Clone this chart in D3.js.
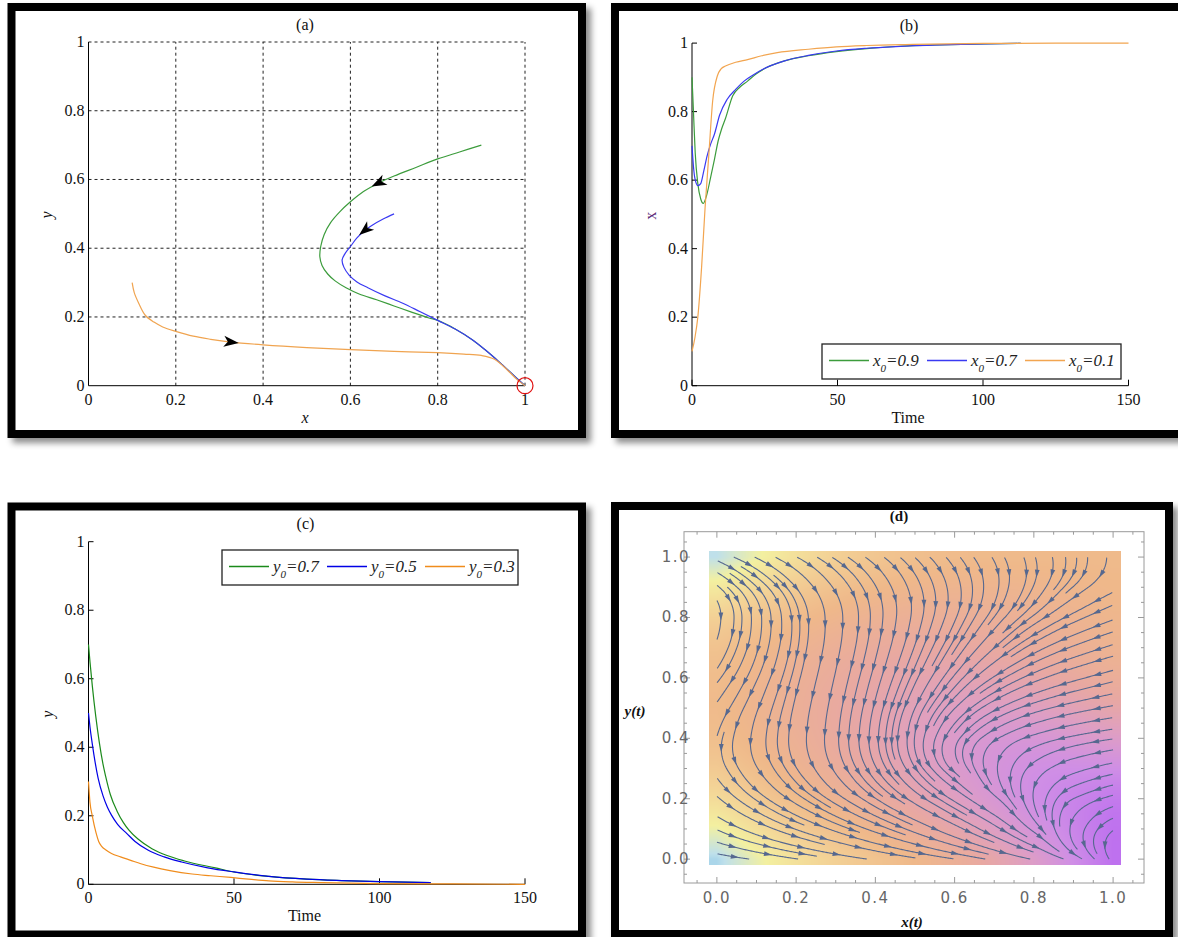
<!DOCTYPE html>
<html>
<head>
<meta charset="utf-8">
<script src="https://cdn.jsdelivr.net/npm/d3@7"></script>
<style>
  body { margin: 0; background: #fff; }
  svg { display: block; }
</style>
</head>
<body>
<div id="chart"></div>
<script>
// ---------- data ----------
var unitTicks = [0, 0.2, 0.4, 0.6, 0.8, 1];
var timeTicks = [0, 50, 100, 150];

// (a) phase trajectories [x, y]
var phaseGreen = [[0.9,0.70],[0.85,0.68],[0.8,0.66],[0.75,0.635],[0.7,0.61],[0.665,0.59],[0.63,0.565],[0.6,0.535],
  [0.575,0.505],[0.555,0.475],[0.54,0.44],[0.532,0.405],[0.53,0.375],[0.535,0.35],[0.548,0.325],[0.565,0.305],
  [0.59,0.285],[0.62,0.267],[0.66,0.25],[0.7,0.232],[0.74,0.214],[0.78,0.197],[0.8,0.19],[0.84,0.165],[0.88,0.133],
  [0.91,0.103],[0.94,0.07],[0.97,0.035],[1,0]];
var phaseBlue = [[0.7,0.50],[0.675,0.485],[0.65,0.467],[0.634,0.453],[0.615,0.43],[0.6,0.405],[0.588,0.385],
  [0.581,0.366],[0.585,0.345],[0.597,0.322],[0.615,0.302],[0.64,0.285],[0.678,0.262],[0.72,0.24],[0.76,0.215],
  [0.8,0.19],[0.84,0.165],[0.88,0.133],[0.91,0.103],[0.94,0.07],[0.97,0.035],[1,0]];
var phaseOrange = [[0.1,0.30],[0.105,0.27],[0.115,0.24],[0.13,0.205],[0.15,0.185],[0.17,0.171],[0.2,0.158],
  [0.24,0.144],[0.28,0.135],[0.326,0.127],[0.4,0.119],[0.5,0.111],[0.6,0.105],[0.7,0.1],[0.8,0.096],[0.86,0.092],
  [0.9,0.088],[0.93,0.077],[0.96,0.045],[0.98,0.02],[1,0]];
var phaseArrows = [["green", 0.665, 0.59], ["blue", 0.634, 0.453], ["orange", 0.326, 0.127]];
var equilibrium = [1, 0];

// (b) x(t)
var bTimeG = [0,0.5,1.1,2,3,3.9,5,6.4,7.7,9,10.2,11.5,14,16.5,19.1,22,25.5,31.8,40,49.6,60,70,85,100,113];
var bValG  = [0.9,0.8,0.68,0.59,0.545,0.532,0.555,0.608,0.66,0.715,0.75,0.78,0.846,0.872,0.889,0.91,0.928,0.948,0.963,0.975,0.984,0.99,0.995,0.998,0.999];
var bTimeB = [0,0.5,1,2,3,4,5.2,6.4,7.7,9.5,12.1,15,17.9,21,24.2,31.8,40,49.6,60,70,85,100,113];
var bValB  = [0.7,0.64,0.605,0.584,0.59,0.625,0.671,0.705,0.734,0.79,0.836,0.865,0.889,0.907,0.923,0.948,0.964,0.977,0.985,0.99,0.995,0.998,0.999];
var bTimeO = [0,1,2,3.3,4.5,5.8,7.1,8.7,10,11.5,15,19.1,24,29.3,40,49.6,60,76,100,125,150];
var bValO  = [0.1,0.14,0.2,0.346,0.52,0.676,0.831,0.904,0.925,0.933,0.944,0.952,0.963,0.972,0.982,0.989,0.993,0.996,0.999,1,1];
var bLabels = ["0.9", "0.7", "0.1"];

// (c) y(t)
var cTimeG = [0,0.5,1.3,2.5,3.7,5,5.9,7.5,9.9,12,13.9,17,21.8,27,33,43.6,50,62,75,87,100,117.6];
var cValG  = [0.7,0.65,0.58,0.49,0.415,0.35,0.315,0.262,0.212,0.18,0.158,0.132,0.104,0.084,0.068,0.048,0.036,0.023,0.015,0.011,0.008,0.005];
var cTimeB = [0,0.5,1.3,2.3,3.3,5,6.5,7.9,10,13.2,16,20.4,26,32,41,50,62,75,87,100,117.6];
var cValB  = [0.5,0.46,0.41,0.355,0.31,0.258,0.225,0.202,0.175,0.148,0.125,0.1,0.08,0.065,0.048,0.036,0.023,0.015,0.011,0.008,0.005];
var cTimeO = [0,0.5,1.3,2.6,3.5,4.6,6,7.9,11,14.5,18,22.4,28,35.6,42,48.9,55,62,70,80,100,125,150];
var cValO  = [0.3,0.24,0.2,0.15,0.125,0.11,0.1,0.09,0.08,0.07,0.06,0.05,0.04,0.03,0.025,0.02,0.015,0.01,0.007,0.005,0.002,0.001,0];
var cLabels = ["0.7", "0.5", "0.3"];

// (d) stream directions (degrees, 0 = right, -90 = down); rows y = 0..1, cols x = 0..1 step 0.1
var fieldGrid = [0,0.1,0.2,0.3,0.4,0.5,0.6,0.7,0.8,0.9,1];
var fieldAngle = [
  [-8,-8,-8,-8,-8,-8,-8,-10,-12,-20,-60],
  [-25,-22,-20,-20,-20,-22,-25,-30,-38,-100,-150],
  [-40,-35,-33,-33,-33,-33,-32,-35,-85,-155,-165],
  [-62,-58,-58,-60,-60,-55,-42,-85,-140,-162,-168],
  [-105,-95,-92,-92,-92,-95,-125,-150,-163,-169,-172],
  [-125,-112,-102,-100,-104,-115,-135,-153,-163,-168,-170],
  [-128,-115,-105,-103,-106,-115,-130,-148,-158,-164,-166],
  [-115,-105,-100,-100,-103,-110,-122,-138,-152,-160,-163],
  [-92,-88,-85,-88,-92,-100,-112,-128,-145,-155,-160],
  [-40,-45,-50,-55,-62,-70,-80,-95,-115,-140,-152],
  [-22,-25,-28,-32,-36,-42,-48,-58,-72,-85,-92]
];
// (d) background density (relative speed); rows y = 0..1, cols x = 0..1 step 0.2
var densVals = [
  [0.06,0.26,0.36,0.46,0.62,0.86],
  [0.28,0.42,0.50,0.62,0.78,0.86],
  [0.40,0.47,0.56,0.68,0.72,0.62],
  [0.40,0.47,0.54,0.58,0.52,0.46],
  [0.34,0.42,0.46,0.48,0.46,0.42],
  [0.08,0.26,0.36,0.40,0.40,0.40]
];
var densStops  = [0, 0.08, 0.18, 0.3, 0.41, 0.52, 0.62, 0.74, 0.88, 1];
var densColors = ["#6fb8e8","#bfe0ea","#f3f0a0","#f3d296","#efb88a","#e8a8a2","#de9ec4","#cf8ee6","#bb6cf0","#b060f0"];

// ---------- drawing ----------
var W = 1178, H = 937;
var serif = "'Liberation Serif', 'Times New Roman', serif";
var svg = d3.select("#chart").append("svg").attr("width", W).attr("height", H);
svg.append("rect").attr("width", W).attr("height", H).attr("fill", "#fff");
var defs = svg.append("defs");
var flt = defs.append("filter").attr("id", "shadow")
  .attr("x", "-5%").attr("y", "-5%").attr("width", "115%").attr("height", "115%");
flt.append("feDropShadow").attr("dx", 5).attr("dy", 5).attr("stdDeviation", 3)
  .attr("flood-color", "#000").attr("flood-opacity", 0.45);

function frame(x, y, w, h) {
  svg.append("rect").attr("x", x).attr("y", y).attr("width", w).attr("height", h)
    .attr("fill", "#000").attr("filter", "url(#shadow)");
  svg.append("rect").attr("x", x + 8).attr("y", y + 8).attr("width", w - 16).attr("height", h - 16)
    .attr("fill", "#fff");
}
frame(7.5, 3, 578.5, 435);
frame(611, 3, 590, 435);
frame(7.5, 502.5, 578.5, 436);
frame(611, 502, 562, 436);

function fmt(v) { return String(+v.toFixed(1)); }

function txt(g, x, y, s, opt) {
  opt = opt || {};
  return g.append("text").attr("x", x).attr("y", y).text(s)
    .attr("font-family", opt.family || serif).attr("font-size", opt.size || 16)
    .attr("text-anchor", opt.anchor || "middle")
    .attr("font-style", opt.style || "normal")
    .attr("font-weight", opt.weight || "normal")
    .attr("fill", opt.fill || "#111");
}

function axesLeftBottom(g, sx, sy, xt, yt, tickIn) {
  var x0 = sx.range()[0], x1 = sx.range()[1], y0 = sy.range()[0], y1 = sy.range()[1];
  g.append("line").attr("x1", x0).attr("x2", x0).attr("y1", y0).attr("y2", y1).attr("stroke", "#000");
  g.append("line").attr("x1", x0).attr("x2", x1).attr("y1", y0).attr("y2", y0).attr("stroke", "#000");
  xt.forEach(function (v) {
    if (tickIn) g.append("line").attr("x1", sx(v)).attr("x2", sx(v)).attr("y1", y0).attr("y2", y0 - 6).attr("stroke", "#000");
    txt(g, sx(v), y0 + 19, fmt(v));
  });
  yt.forEach(function (v) {
    if (tickIn) g.append("line").attr("x1", x0).attr("x2", x0 + 5).attr("y1", sy(v)).attr("y2", sy(v)).attr("stroke", "#000");
    txt(g, x0 - 4, sy(v) + 5, fmt(v), {anchor: "end"});
  });
}

function legend(g, bx, by, bw, bh, letter, labels, colors) {
  g.append("rect").attr("x", bx).attr("y", by).attr("width", bw).attr("height", bh)
    .attr("fill", "#fff").attr("stroke", "#222").attr("stroke-width", 1.3);
  labels.forEach(function (lab, i) {
    var lx = bx + 7 + i * 98, ly = by + bh / 2 - 1;
    g.append("line").attr("x1", lx).attr("x2", lx + 40).attr("y1", ly).attr("y2", ly)
      .attr("stroke", colors[i]).attr("stroke-width", 1.3);
    var t = g.append("text").attr("x", lx + 44).attr("y", ly + 5)
      .attr("font-family", serif).attr("font-size", 17).attr("font-style", "italic").attr("fill", "#222");
    t.append("tspan").text(letter);
    t.append("tspan").attr("dy", 6).attr("font-size", 11).text("0");
    t.append("tspan").attr("dy", -6).text("=" + lab);
  });
}

// ----- (a) -----
(function () {
  var g = svg.append("g");
  var sx = d3.scaleLinear().domain([0, 1]).range([88.5, 525]);
  var sy = d3.scaleLinear().domain([0, 1]).range([385.7, 42]);
  unitTicks.slice(1).forEach(function (v) {
    g.append("line").attr("x1", sx(v)).attr("x2", sx(v)).attr("y1", sy(0)).attr("y2", sy(1))
      .attr("stroke", "#222").attr("stroke-dasharray", "3,3");
    g.append("line").attr("x1", sx(0)).attr("x2", sx(1)).attr("y1", sy(v)).attr("y2", sy(v))
      .attr("stroke", "#222").attr("stroke-dasharray", "3,3");
  });
  axesLeftBottom(g, sx, sy, unitTicks, unitTicks, false);
  var line = d3.line().x(function (d) { return sx(d[0]); }).y(function (d) { return sy(d[1]); })
    .curve(d3.curveCatmullRom.alpha(0.5));
  var series = {green: [phaseGreen, "#3c9c3c"], blue: [phaseBlue, "#3a3af2"], orange: [phaseOrange, "#f0a450"]};
  ["green", "blue", "orange"].forEach(function (k) {
    g.append("path").attr("d", line(series[k][0])).attr("fill", "none")
      .attr("stroke", series[k][1]).attr("stroke-width", 1.2);
  });
  phaseArrows.forEach(function (a) {
    var pts = series[a[0]][0], best = 0, bd = 1e9;
    for (var i = 0; i < pts.length - 1; i++) {
      var d = Math.hypot(pts[i][0] - a[1], pts[i][1] - a[2]);
      if (d < bd) { bd = d; best = i; }
    }
    var p = pts[Math.max(0, best - 1)], q = pts[Math.min(pts.length - 1, best + 1)];
    var ang = Math.atan2(sy(q[1]) - sy(p[1]), sx(q[0]) - sx(p[0])) * 180 / Math.PI;
    g.append("path").attr("d", "M8,0L-7,-5.5L-3,0L-7,5.5Z").attr("fill", "#000")
      .attr("transform", "translate(" + sx(a[1]) + "," + sy(a[2]) + ") rotate(" + ang + ")");
  });
  g.append("circle").attr("cx", sx(equilibrium[0])).attr("cy", sy(equilibrium[1])).attr("r", 8)
    .attr("fill", "none").attr("stroke", "#e01010").attr("stroke-width", 1.2);
  txt(g, 305, 30, "(a)");
  txt(g, 305, 423, "x", {style: "italic"});
  txt(g, 0, 0, "y", {style: "italic"}).attr("transform", "translate(52,215) rotate(-90)");
})();

// ----- time plots -----
function timePanel(ox, oy, times, vals, colors, letter, labels, title, ylab, ylabColor, leg) {
  var g = svg.append("g");
  var sx = d3.scaleLinear().domain([0, 150]).range([ox, ox + 436.5]);
  var sy = d3.scaleLinear().domain([0, 1]).range([oy, oy - 342.6]);
  axesLeftBottom(g, sx, sy, timeTicks, unitTicks, true);
  times.forEach(function (t, i) {
    var pts = t.map(function (tt, j) { return [tt, vals[i][j]]; });
    var line = d3.line().x(function (d) { return sx(d[0]); }).y(function (d) { return sy(d[1]); })
      .curve(d3.curveMonotoneX);
    g.append("path").attr("d", line(pts)).attr("fill", "none").attr("stroke", colors[i]).attr("stroke-width", 1.2);
  });
  legend(g, leg[0], leg[1], leg[2], leg[3], letter, labels, colors);
  txt(g, ox + 217, oy - 355, title);
  txt(g, ox + 216, oy + 37, "Time");
  txt(g, 0, 0, ylab, {style: ylabColor ? "normal" : "italic", fill: ylabColor || "#111"})
    .attr("transform", "translate(" + (ox - 36) + "," + (oy - 170) + ") rotate(-90)");
}
timePanel(692, 385.7, [bTimeG, bTimeB, bTimeO], [bValG, bValB, bValO],
  ["#3c9c3c", "#3a3af2", "#f2a550"], "x", bLabels, "(b)", "x", "#5a2a78", [822, 344, 299, 35]);
timePanel(88.5, 884.3, [cTimeG, cTimeB, cTimeO], [cValG, cValB, cValO],
  ["#1b8a1b", "#0000e6", "#f08c1c"], "y", cLabels, "(c)", "y", null, [222, 550, 296, 35]);

// ----- (d) stream plot -----
(function () {
  var g = svg.append("g");
  var sx = d3.scaleLinear().domain([-0.083, 1.078]).range([684, 1144]);
  var sy = d3.scaleLinear().domain([-0.079, 1.084]).range([883, 531.7]);

  // background density
  var color = d3.scaleLinear().domain(densStops).range(densColors).interpolate(d3.interpolateRgb);
  var rowsInterp = densVals.map(function (r) { return d3.interpolateBasis(r); });
  function dens(x, y) {
    x = Math.max(0, Math.min(1, x)); y = Math.max(0, Math.min(1, y));
    var col = rowsInterp.map(function (f) { return f(x); });
    return d3.interpolateBasis(col)(y);
  }
  var cx0 = Math.round(sx(-0.02)), cx1 = Math.round(sx(1.02)), cy0 = Math.round(sy(1.02)), cy1 = Math.round(sy(-0.02));
  var cw = cx1 - cx0, ch = cy1 - cy0;
  var canvas = document.createElement("canvas");
  canvas.width = cw; canvas.height = ch;
  var ctx = canvas.getContext("2d");
  var img = ctx.createImageData(cw, ch);
  for (var j = 0; j < ch; j++) {
    for (var i = 0; i < cw; i++) {
      var c = d3.rgb(color(dens(sx.invert(cx0 + i + 0.5), sy.invert(cy0 + j + 0.5))));
      var k = (j * cw + i) * 4;
      img.data[k] = c.r; img.data[k + 1] = c.g; img.data[k + 2] = c.b; img.data[k + 3] = 255;
    }
  }
  ctx.putImageData(img, 0, 0);
  g.append("image").attr("x", cx0).attr("y", cy0).attr("width", cw).attr("height", ch)
    .attr("href", canvas.toDataURL());

  // streamlines (evenly spaced)
  var n = fieldGrid.length - 1;
  function dir(p) {
    var fx = Math.max(0, Math.min(1, sx.invert(p[0]))) * n, fy = Math.max(0, Math.min(1, sy.invert(p[1]))) * n;
    var i = Math.min(n - 1, Math.floor(fx)), j = Math.min(n - 1, Math.floor(fy));
    var tx = fx - i, ty = fy - j;
    var a0 = fieldAngle[j][i] * (1 - tx) + fieldAngle[j][i + 1] * tx;
    var a1 = fieldAngle[j + 1][i] * (1 - tx) + fieldAngle[j + 1][i + 1] * tx;
    var a = (a0 * (1 - ty) + a1 * ty) * Math.PI / 180;
    return [Math.cos(a), -Math.sin(a)];
  }
  var X0 = sx(0), X1 = sx(1), Y0 = sy(1), Y1 = sy(0);
  var dsep = 11, dtest = 5.5, h = 1;
  var nc = Math.ceil((X1 - X0) / dsep) + 1, nr = Math.ceil((Y1 - Y0) / dsep) + 1;
  var buckets = [];
  for (var b = 0; b < nc * nr; b++) buckets.push([]);
  function inside(p) { return p[0] >= X0 && p[0] <= X1 && p[1] >= Y0 && p[1] <= Y1; }
  function far(p, d) {
    var ci = Math.floor((p[0] - X0) / dsep), cj = Math.floor((p[1] - Y0) / dsep);
    for (var i = ci - 1; i <= ci + 1; i++) for (var j = cj - 1; j <= cj + 1; j++) {
      if (i < 0 || j < 0 || i >= nc || j >= nr) continue;
      var bk = buckets[j * nc + i];
      for (var k = 0; k < bk.length; k++) {
        var dx = bk[k][0] - p[0], dy = bk[k][1] - p[1];
        if (dx * dx + dy * dy < d * d) return false;
      }
    }
    return true;
  }
  function store(p) {
    var ci = Math.floor((p[0] - X0) / dsep), cj = Math.floor((p[1] - Y0) / dsep);
    if (ci >= 0 && cj >= 0 && ci < nc && cj < nr) buckets[cj * nc + ci].push(p);
  }
  function trace(seed, sign) {
    var pts = [], p = seed;
    for (var s = 0; s < 900; s++) {
      var v1 = dir(p);
      var v2 = dir([p[0] + sign * v1[0] * h / 2, p[1] + sign * v1[1] * h / 2]);
      var q = [p[0] + sign * v2[0] * h, p[1] + sign * v2[1] * h];
      if (!inside(q) || !far(q, dtest)) break;
      pts.push(q); p = q;
    }
    return pts;
  }
  var lines = [], queue = [], qi = 0;
  function makeLine(seed) {
    if (!inside(seed) || !far(seed, dsep)) return null;
    var fw = trace(seed, 1), bw = trace(seed, -1);
    var ln = bw.reverse().concat([seed], fw);
    if (ln.length < 18) return null;
    ln.forEach(store);
    lines.push(ln);
    for (var k = 0; k < ln.length; k += 4) {
      var a = ln[Math.max(0, k - 1)], c = ln[Math.min(ln.length - 1, k + 1)];
      var tx = c[0] - a[0], ty = c[1] - a[1], len = Math.hypot(tx, ty) || 1;
      queue.push([ln[k][0] - ty / len * dsep, ln[k][1] + tx / len * dsep]);
      queue.push([ln[k][0] + ty / len * dsep, ln[k][1] - tx / len * dsep]);
    }
    return ln;
  }
  function drain() { while (qi < queue.length) makeLine(queue[qi++]); }
  makeLine([sx(0.5), sy(0.5)]); drain();
  for (var gx = X0 + 3; gx < X1; gx += 5) for (var gy = Y0 + 3; gy < Y1; gy += 5) { makeLine([gx, gy]); drain(); }

  var stroke = "#56688f";
  var ld = d3.line();
  lines.forEach(function (ln) {
    g.append("path").attr("d", ld(ln)).attr("fill", "none").attr("stroke", stroke).attr("stroke-width", 1.1);
    var acc = 0, next = 16;
    for (var k = 1; k < ln.length - 6; k++) {
      acc += Math.hypot(ln[k][0] - ln[k - 1][0], ln[k][1] - ln[k - 1][1]);
      if (acc >= next) {
        var a = ln[k - 2 < 0 ? 0 : k - 2], c = ln[k + 2];
        var ang = Math.atan2(c[1] - a[1], c[0] - a[0]) * 180 / Math.PI;
        g.append("path").attr("d", "M4.5,0L-3.5,-2.4L-3.5,2.4Z").attr("fill", stroke)
          .attr("transform", "translate(" + ln[k][0] + "," + ln[k][1] + ") rotate(" + ang + ")");
        next += 36;
      }
    }
  });

  // frame & ticks
  var fx0 = sx.range()[0], fx1 = sx.range()[1], fy0 = sy.range()[0], fy1 = sy.range()[1];
  g.append("rect").attr("x", fx0).attr("y", fy1).attr("width", fx1 - fx0).attr("height", fy0 - fy1)
    .attr("fill", "none").attr("stroke", "#9a9a9a");
  var minor = d3.range(-0.05, 1.06, 0.05);
  minor.forEach(function (v) {
    var major = Math.abs(v * 5 - Math.round(v * 5)) < 1e-6 && v > -0.01;
    var L = major ? 6 : 3;
    g.append("line").attr("x1", sx(v)).attr("x2", sx(v)).attr("y1", fy0).attr("y2", fy0 - L).attr("stroke", "#9a9a9a");
    g.append("line").attr("x1", sx(v)).attr("x2", sx(v)).attr("y1", fy1).attr("y2", fy1 + L).attr("stroke", "#9a9a9a");
    g.append("line").attr("y1", sy(v)).attr("y2", sy(v)).attr("x1", fx0).attr("x2", fx0 + L).attr("stroke", "#9a9a9a");
    g.append("line").attr("y1", sy(v)).attr("y2", sy(v)).attr("x1", fx1).attr("x2", fx1 - L).attr("stroke", "#9a9a9a");
  });
  var f1 = d3.format(".1f");
  var sans = "'DejaVu Sans', sans-serif";
  unitTicks.forEach(function (v) {
    txt(g, sx(v), 903, f1(v), {family: sans, size: 15, fill: "#666"}).attr("letter-spacing", 1.5);
    txt(g, 690, sy(v) + 5, f1(v), {family: sans, size: 15, fill: "#666", anchor: "end"}).attr("letter-spacing", 1.5);
  });
  txt(g, 899, 521, "(d)", {weight: "bold", size: 15});
  txt(g, 912, 927, "x(t)", {weight: "bold", style: "italic", size: 15});
  txt(g, 635, 716, "y(t)", {weight: "bold", style: "italic", size: 15});
})();
</script>
</body>
</html>
